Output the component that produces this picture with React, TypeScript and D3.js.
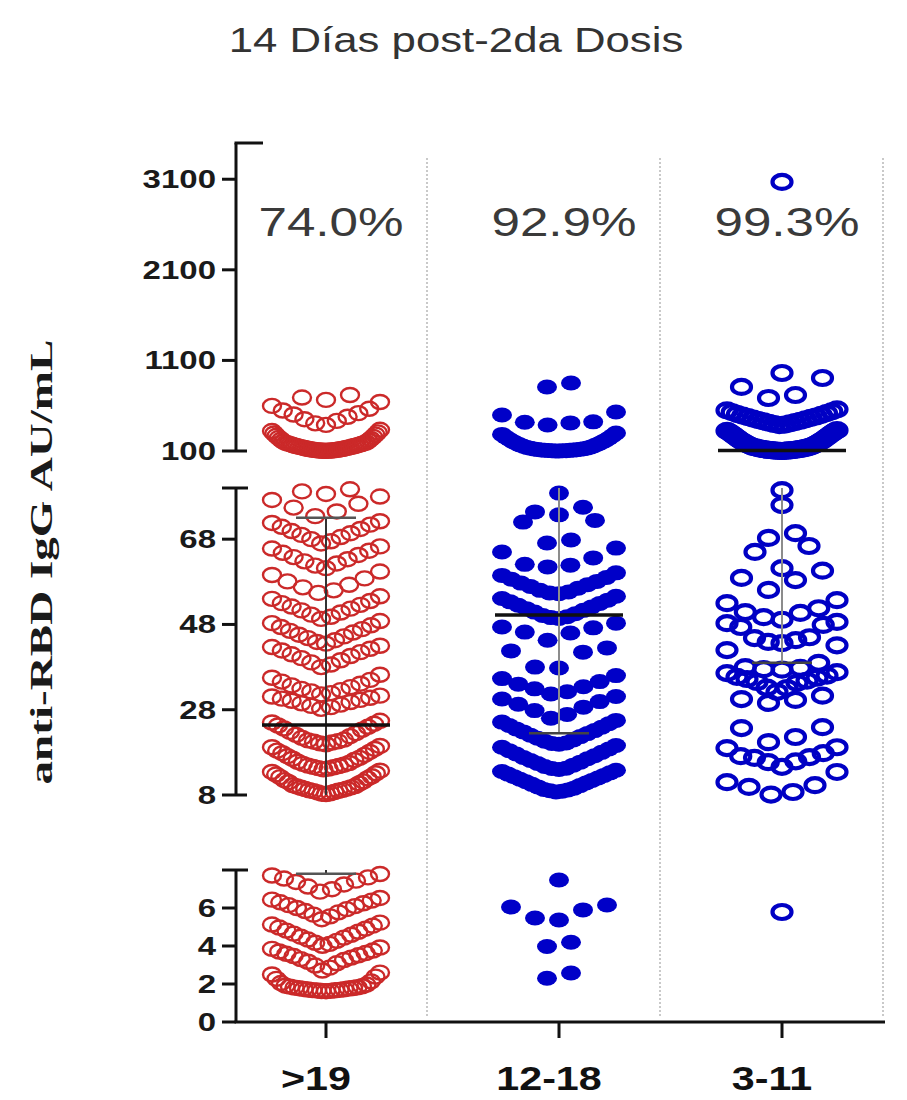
import React from "react";
import * as d3 from "d3";

// ---------------- DATA ----------------
const groups = [">19", "12-18", "3-11"];
const pctLabels = ["74.0%", "92.9%", "99.3%"];
const title = "14 Días post-2da Dosis";
const yTitle = "anti-RBD IgG AU/mL";

const topTicks = [100, 1100, 2100, 3100];
const midTicks = [8, 28, 48, 68];
const lowTicks = [0, 2, 4, 6];

// >19 años (hollow red)
const adultValues = [
  1.62, 1.63, 1.64, 1.66, 1.67, 1.68, 1.69, 1.71, 1.72, 1.74, 1.76, 1.78, 1.79, 1.81, 1.83, 1.86, 1.88, 1.91,
  1.97, 2.05, 2.14, 2.27, 2.39, 2.5, 2.6,
  2.71, 2.86, 2.97, 3.09, 3.17, 3.26, 3.31, 3.39, 3.47, 3.51, 3.59, 3.63, 3.71, 3.76, 3.85, 3.92,
  4.01, 4.11, 4.17, 4.27, 4.34, 4.44, 4.49, 4.59, 4.65, 4.75, 4.81, 4.91, 4.97, 5.07, 5.13, 5.23,
  5.41, 5.56, 5.65, 5.77, 5.84, 5.94, 6.0, 6.1, 6.15, 6.25, 6.3, 6.39, 6.44, 6.53,
  6.86, 6.99, 7.13, 7.24, 7.37, 7.44, 7.55, 7.61, 7.71, 7.79,
  8.2, 8.3, 8.4, 8.6, 8.7, 8.9, 9.0, 9.1, 9.2, 9.4, 9.5, 9.7, 9.8, 10.0, 10.1, 10.3, 10.7, 11.0, 11.2, 11.5,
  11.9, 12.2, 12.4, 12.8, 13.1, 13.4, 13.7,
  14.0, 14.2, 14.3, 14.5, 14.6, 14.8, 14.9, 15.1, 15.3, 15.5, 15.8, 16.2, 16.5, 16.7, 17.1, 17.4, 17.8, 18.1,
  18.4, 18.8, 19.2, 19.5,
  19.9, 20.1, 20.3, 20.5, 20.6, 20.8, 21.0, 21.4, 21.8, 22.1, 22.5, 22.8, 23.3, 23.6, 24.0, 24.3, 24.7, 25.0, 25.4,
  28.2, 28.6, 28.9, 29.2, 29.5, 29.8, 30.1, 30.3, 30.6, 30.8, 31.1, 31.3,
  31.6, 31.9, 32.3, 32.6, 32.9, 33.3, 33.7, 34.1, 34.6, 35.0, 35.5, 36.2,
  38.0, 38.6, 39.1, 39.6, 40.1, 40.6, 41.0, 41.5, 41.9, 42.3, 42.7, 43.0,
  43.5, 43.9, 44.3, 44.8, 45.2, 45.6, 46.1, 46.5, 46.9, 47.4, 47.8, 48.3, 48.8,
  49.3, 49.8, 50.3, 50.8, 51.3, 51.7, 52.2, 52.6, 53.0, 53.5, 54.0, 54.6,
  55.4, 56.0, 56.7, 57.3, 58.1, 58.8, 59.6, 60.4,
  61.2, 61.8, 62.3, 62.8, 63.3, 63.8, 64.3, 64.8, 65.3, 65.8, 66.3,
  67.0, 67.5, 68.0, 68.5, 69.0, 69.4, 69.9, 70.4, 70.9, 71.4, 71.8, 72.2,
  73.4, 74.5, 75.4, 76.3, 77.2, 78.0,
  78.6, 79.2, 79.7,
  101, 102, 103, 104, 105, 106, 107, 108, 110, 112, 114, 116, 118, 120, 122, 125, 127, 131, 133, 137,
  140, 142, 146, 149, 152, 155, 158, 162, 166, 170, 175, 177, 182, 186, 190, 194, 203, 213,
  224, 233, 245, 256, 268, 281, 293, 306, 320, 334,
  388, 405, 432, 451, 478, 503, 518, 547, 566, 598, 641,
  664, 690, 718,
];

// 12-18 años (filled blue)
const teenValues = [
  2.3, 2.58, 3.97, 4.2, 5.37, 5.47, 5.9, 6.05, 6.16, 7.47,
  8.7, 8.9, 9.0, 9.2, 9.3, 9.6, 9.9, 10.2, 10.5, 10.8, 11.1, 11.4, 11.7, 12.0, 12.3, 12.6, 12.9, 13.2, 13.5, 13.8,
  14.0, 14.2, 14.3, 14.7, 15.0, 15.4, 15.7, 16.1, 16.5, 16.8, 17.2, 17.6, 18.0, 18.4, 18.8, 19.2, 19.6,
  19.9, 20.1, 20.2, 20.6, 20.9, 21.3, 21.7, 22.0, 22.4, 22.8, 23.1, 23.5, 23.9, 24.3, 24.7, 25.1, 25.5,
  26.0, 26.9, 27.8, 28.6, 29.3, 29.9, 30.5, 31.1,
  31.7, 32.2, 32.9, 33.4, 34.0, 34.6, 35.3, 36.0,
  37.8, 38.0, 41.5, 41.8, 42.5,
  44.3, 46.0, 46.2, 47.2, 47.4, 48.3,
  49.4, 49.6, 49.8, 50.1, 50.5, 50.9, 51.3, 51.7, 52.1, 52.5, 52.9, 53.3, 53.7, 54.1, 54.6,
  55.2, 55.4, 55.6, 56.0, 56.5, 56.9, 57.3, 57.7, 58.1, 58.6, 59.0, 59.5, 60.1,
  61.5, 61.9, 62.1, 63.6, 65.0, 65.9,
  67.1, 67.8, 72.0, 72.4,
  73.7, 74.4, 75.5,
  78.8,
  100, 101, 102, 103, 104, 106, 107, 109, 110, 112, 115, 117, 120, 123, 126, 131, 134, 138, 145, 152, 160,
  168, 177, 186, 196, 206, 217, 229, 241, 254, 268, 283, 298,
  387, 410, 418, 422, 497, 530,
  807, 851,
];

// 3-11 años (hollow blue)
const childValues = [
  5.79,
  8.1, 8.7, 9.9, 10.3, 11.0, 13.4,
  14.6, 15.7, 15.9, 16.7, 16.9, 17.1, 17.8, 19.0, 19.2,
  20.4, 21.6, 23.7, 23.9,
  29.6, 30.3, 30.5, 31.3,
  32.2, 33.1, 33.2, 34.3, 34.5, 34.8, 35.2, 35.5, 35.7, 36.0, 36.6, 36.8,
  37.4, 37.5, 37.8, 38.0, 39.0, 42.0, 43.1,
  43.6, 43.9, 44.3, 44.8, 45.0, 47.4, 47.9, 48.3, 48.6,
  49.1, 49.7, 50.7, 50.9, 51.8, 53.0, 53.7,
  56.1, 58.4, 58.9, 60.6,
  61.2, 65.0, 66.4,
  68.3, 69.4,
  76.0, 79.5,
  100, 101, 102, 103, 104, 105, 106, 107, 108, 109, 111, 112, 114, 115, 117, 119, 120, 123, 125, 127,
  131, 133, 135, 139, 142, 144, 149, 154, 159, 165, 171,
  177, 184, 191, 198, 205, 213, 221, 229, 238, 247, 256, 265, 274, 283, 292, 301, 309, 316, 323, 330,
  385, 392, 398, 405, 412, 419, 426, 434, 441, 449, 457, 465, 473, 481, 490, 499, 508, 518, 528, 538, 549, 560,
  685, 718, 807, 906, 961, 3070,
];

const medians = [24.4, 50.2, 105];
const whiskerLow = [7.8, 22.5, 39];
const whiskerHigh = [73, 95, 98];

// ---------------- LAYOUT ----------------
const W = 907;
const H = 1100;
const axisX = 236;
const stretch = 1.28;

const segments = [
  { key: "top", scale: d3.scaleLinear().domain([100, 3500]).range([451, 143]), ticks: topTicks },
  { key: "mid", scale: d3.scaleLinear().domain([8, 80]).range([795, 488]), ticks: midTicks },
  { key: "low", scale: d3.scaleLinear().domain([0, 8]).range([1022, 870]), ticks: lowTicks },
];

function segOf(v: number) {
  if (v >= 100) return segments[0];
  if (v >= 8) return segments[1];
  return segments[2];
}

const xScale = d3.scaleOrdinal<string, number>().domain(groups).range([326, 559, 782]);

function swarm(values: number[], cx: number, spacing: number, maxHalf: number, binH: number) {
  const pts: { x: number; y: number }[] = [];
  for (const seg of segments) {
    const base = seg.scale.range()[0];
    const vs = values.filter((v) => segOf(v) === seg).sort((a, b) => a - b);
    const bins = d3.group(vs, (v) => Math.floor((base - seg.scale(v)) / binH));
    for (const [, arr] of bins) {
      const n = arr.length;
      const dx = n > 1 ? Math.min(spacing, (2 * maxHalf) / (n - 1)) : 0;
      arr.forEach((v, i) => {
        let k: number;
        if (n % 2 === 1) k = i === 0 ? 0 : i % 2 === 1 ? -Math.ceil(i / 2) : Math.ceil(i / 2);
        else k = (i % 2 === 0 ? -1 : 1) * (Math.floor(i / 2) + 0.5);
        pts.push({ x: cx + k * dx, y: seg.scale(v) });
      });
    }
  }
  return pts;
}

const seriesStyles = [
  { rx: 9, ry: 7, fill: "none", stroke: "#c40c0c", sw: 2.4, op: 0.88, spacing: 24, maxHalf: 54 },
  { rx: 10, ry: 7.5, fill: "#0000c8", stroke: "none", sw: 0, op: 1, spacing: 24, maxHalf: 57 },
  { rx: 9.5, ry: 7, fill: "none", stroke: "#0000c4", sw: 4.2, op: 1, spacing: 27, maxHalf: 55 },
];
const seriesValues = [adultValues, teenValues, childValues];
const whiskerColors = ["#333333", "#8c8c8c", "#8c8c8c"];

function SText(props: any) {
  const { x, y, sx = stretch, children, ...rest } = props;
  return (
    <text transform={`translate(${x},${y}) scale(${sx},1)`} {...rest}>
      {children}
    </text>
  );
}

function segmentPieces(lo: number, hi: number) {
  const out: { y1: number; y2: number }[] = [];
  for (const seg of segments) {
    const [d0, d1] = seg.scale.domain();
    const a = Math.max(lo, d0);
    const b = Math.min(hi, d1);
    if (b > a) out.push({ y1: seg.scale(a), y2: seg.scale(b) });
  }
  return out;
}
function inAnySeg(v: number) {
  return segments.some((s) => {
    const [d0, d1] = s.scale.domain();
    return v >= d0 && v <= d1;
  });
}

export default function App() {
  const font = "'Liberation Sans', Arial, sans-serif";
  return (
    <svg
      width={W}
      height={H}
      viewBox={`0 0 ${W} ${H}`}
      style={{ position: "absolute", left: 0, top: 0, background: "#fff" }}
    >
      <rect x={0} y={0} width={W} height={H} fill="#fff" />

      {/* Title */}
      <SText x={456} y={52} textAnchor="middle" fontFamily={font} fontSize={35} fill="#333" sx={1.25}>
        {title}
      </SText>

      {/* dotted separators */}
      {groups.map((g) => (
        <line
          key={"sep" + g}
          x1={xScale(g) + 101}
          x2={xScale(g) + 101}
          y1={158}
          y2={1018}
          stroke="#b8b8b8"
          strokeWidth={1.5}
          strokeDasharray="2,2"
        />
      ))}

      {/* y axis segments */}
      {segments.map((seg, si) => {
        const [r0, r1] = seg.scale.range();
        return (
          <g key={seg.key}>
            <line x1={axisX} x2={axisX} y1={r0} y2={r1} stroke="#111" strokeWidth={3} />
            {si === 0 ? (
              <line x1={axisX - 1.5} x2={axisX + 27} y1={r1} y2={r1} stroke="#111" strokeWidth={3} />
            ) : (
              <line x1={axisX - 14} x2={axisX + 12} y1={r1} y2={r1} stroke="#111" strokeWidth={3} />
            )}
            {si < 2 && (
              <line x1={axisX} x2={axisX + 11} y1={r0} y2={r0} stroke="#111" strokeWidth={3} />
            )}
            {seg.ticks.map((t) => (
              <g key={t}>
                <line x1={axisX - 14} x2={axisX} y1={seg.scale(t)} y2={seg.scale(t)} stroke="#111" strokeWidth={3} />
                <SText
                  x={axisX - 20}
                  y={seg.scale(t) + 9}
                  textAnchor="end"
                  fontFamily={font}
                  fontWeight="bold"
                  fontSize={25}
                  fill="#1a1a1a"
                  sx={1.32}
                >
                  {t}
                </SText>
              </g>
            ))}
          </g>
        );
      })}

      {/* x axis */}
      <line x1={axisX - 1.5} x2={885} y1={1022} y2={1022} stroke="#111" strokeWidth={3} />
      {groups.map((g) => (
        <g key={"xt" + g}>
          <line x1={xScale(g)} x2={xScale(g)} y1={1022} y2={1038} stroke="#111" strokeWidth={3} />
          <SText
            x={xScale(g) - 10}
            y={1090}
            textAnchor="middle"
            fontFamily={font}
            fontWeight="bold"
            fontSize={33}
            fill="#111"
            sx={1.25}
          >
            {g}
          </SText>
        </g>
      ))}

      {/* y axis title */}
      <text
        transform="translate(52,562) rotate(-90)"
        textAnchor="middle"
        fontFamily="'Liberation Serif', 'Times New Roman', serif"
        fontWeight="bold"
        fontSize={31}
        fill="#1a1a1a"
        textLength={445}
        lengthAdjust="spacingAndGlyphs"
      >
        {yTitle}
      </text>

      {/* dots */}
      {groups.map((g, gi) => {
        const st = seriesStyles[gi];
        const pts = swarm(seriesValues[gi], xScale(g), st.spacing, st.maxHalf, 25);
        return (
          <g key={"pts" + g} opacity={st.op}>
            {pts.map((p, i) => (
              <ellipse
                key={i}
                cx={p.x}
                cy={p.y}
                rx={st.rx}
                ry={st.ry}
                fill={st.fill}
                stroke={st.stroke}
                strokeWidth={st.sw}
              />
            ))}
          </g>
        );
      })}

      {/* error bars and medians */}
      {groups.map((g, gi) => {
        const cx = xScale(g);
        const pieces = segmentPieces(whiskerLow[gi], whiskerHigh[gi]);
        const ends = [whiskerLow[gi], whiskerHigh[gi]].filter(inAnySeg);
        return (
          <g key={"eb" + g}>
            {pieces.map((p, i) => (
              <line key={i} x1={cx} x2={cx} y1={p.y1} y2={p.y2} stroke={whiskerColors[gi]} strokeWidth={2} />
            ))}
            {ends.map((v) => (
              <line
                key={v}
                x1={cx - 30}
                x2={cx + 30}
                y1={segOf(v).scale(v)}
                y2={segOf(v).scale(v)}
                stroke={gi === 0 ? "#555" : "#444"}
                strokeWidth={2.5}
              />
            ))}
            <line
              x1={cx - 64}
              x2={cx + 64}
              y1={segOf(medians[gi]).scale(medians[gi])}
              y2={segOf(medians[gi]).scale(medians[gi])}
              stroke="#111"
              strokeWidth={3.5}
            />
          </g>
        );
      })}

      {/* percentages */}
      {groups.map((g, gi) => (
        <SText
          key={"pct" + g}
          x={xScale(g) + 5}
          y={236}
          textAnchor="middle"
          fontFamily={font}
          fontSize={40}
          fill="#3a3a3a"
          sx={1.28}
        >
          {pctLabels[gi]}
        </SText>
      ))}
    </svg>
  );
}
